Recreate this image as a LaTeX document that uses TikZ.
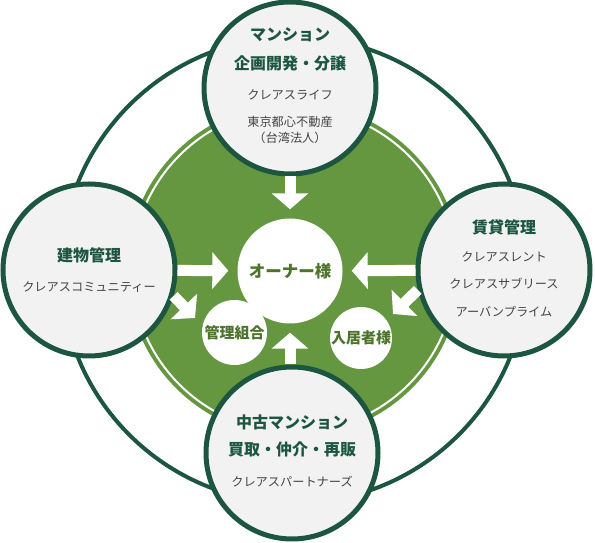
\documentclass[tikz,border=0pt]{standalone}
\usepackage{fontspec}
\newfontfamily\jpfont{Noto Sans CJK JP}
\definecolor{RingGreen}{RGB}{28,86,64}
\definecolor{LeafGreen}{RGB}{100,151,64}
\definecolor{OwnerGreen}{RGB}{76,116,44}
\definecolor{CircleGray}{RGB}{242,242,242}
\definecolor{TextGray}{RGB}{68,68,68}
\usetikzlibrary{arrows.meta, positioning}

\begin{document}
\begin{tikzpicture}[x=1pt, y=1pt,
    field/.style={circle, draw=RingGreen, line width=5pt, fill=CircleGray, minimum size=172pt, inner sep=0pt},
    party/.style={circle, fill=white, inner sep=0pt, text=OwnerGreen, font=\jpfont\bfseries\fontsize{15}{18}\selectfont},
    head/.style={font=\jpfont\bfseries\fontsize{16}{19}\selectfont, text=RingGreen},
    sub/.style={font=\jpfont\fontsize{12.2}{14}\selectfont, text=TextGray},
    flow/.style={white, line width=11pt, shorten >=9pt, -{Triangle[width=36pt, length=16pt]}}]
  \useasboundingbox (0,0) rectangle (595,543);
  % outer ring and green field
  \draw[RingGreen, line width=4pt] (294,273) circle (233);
  \fill[LeafGreen] (294,273) circle (167);
  \draw[white, line width=2pt] (294,273) circle (162);
  % owner side
  \node[party, minimum size=105pt, font=\jpfont\bfseries\fontsize{16.5}{19}\selectfont] (owner) at (290,272) {オーナー様};
  \node[party, minimum size=65pt] (kumiai) at (234.5,210.5) {管理組合};
  \node[party, minimum size=62pt] (nyukyo) at (361,205) {入居者様};
  % four business circles
  \node[field] (plan) at (290,455) {};
  \node[field] (manage) at (89,273) {};
  \node[field] (lease) at (504,273) {};
  \node[field] (resale) at (292,90) {};
  \node[head] (plan-1) at ([yshift=53pt]plan) {マンション};
  \node[head] (plan-2) at ([yshift=25pt]plan) {企画開発・分譲};
  \node[sub] (plan-3) at ([yshift=-7pt]plan) {クレアスライフ};
  \node[sub] (plan-4) at ([yshift=-34pt]plan) {東京都心不動産};
  \node[sub] (plan-5) at ([yshift=-50pt]plan) {（台湾法人）};
  \node[head] (manage-1) at ([yshift=15pt]manage) {建物管理};
  \node[sub] (manage-2) at ([yshift=-17pt]manage) {クレアスコミュニティー};
  \node[head] (lease-1) at ([yshift=43pt]lease) {賃貸管理};
  \node[sub] (lease-2) at ([yshift=13pt]lease) {クレアスレント};
  \node[sub] (lease-3) at ([yshift=-14pt]lease) {クレアスサブリース};
  \node[sub] (lease-4) at ([yshift=-42pt]lease) {アーバンプライム};
  \node[head] (resale-1) at ([yshift=31pt]resale) {中古マンション};
  \node[head] (resale-2) at ([yshift=4pt]resale) {買取・仲介・再販};
  \node[sub] (resale-3) at ([yshift=-29pt]resale) {クレアスパートナーズ};
  % white arrows
  \coordinate (kumiai-in) at (195,225);
  \coordinate (nyukyo-in) at (393,229);
  \draw[flow] (plan) -- (owner);
  \draw[flow] (resale.north -| owner) -- (owner);
  \draw[flow] (manage) -- (owner);
  \draw[flow] (lease) -- (owner);
  \draw[flow, shorten >=0pt] (manage.-17) -- (kumiai-in);
  \draw[flow, shorten >=0pt] (lease.193) -- (nyukyo-in);
\end{tikzpicture}
\end{document}
